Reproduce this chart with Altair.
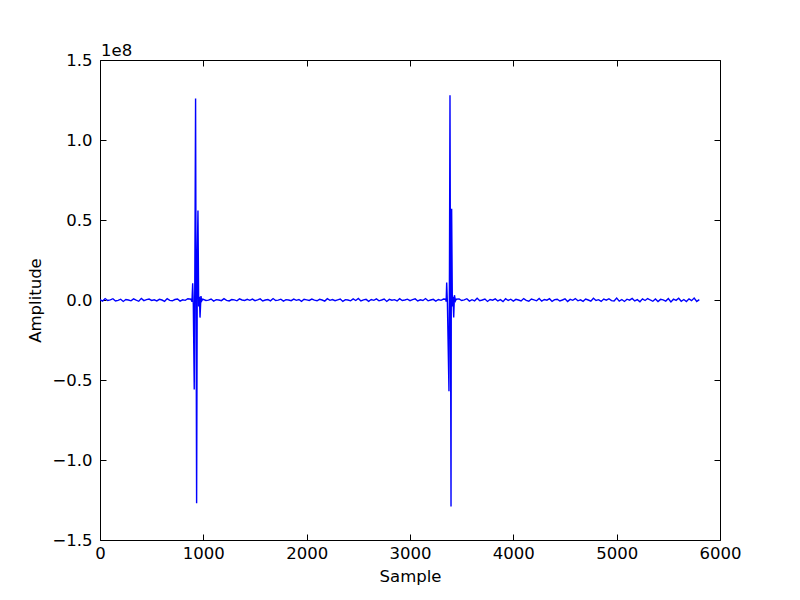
import altair as alt
import pandas as pd

# ---- data -------------------------------------------------------------
noise_step = 25  # baseline samples every 25 indices, 0..5800
noise_e5 = [
    2, -7, 9, -3, 1, 8, -6, -2, 5, -9, 3, 0, -5, 7, -1, -8, 10, -4, 2, 6,
    -3, 1, -6, 4, 0, -8, 9, -2, -5, 3, 6, -7, 1, -2, 8, -5, 0, 4, -6, 2,
    5, -3, -1, 6, -7, 2, 0, -4, 8, -2, -6, 3, 1, -5, 7, 0, -3, 4, -2, 6,
    -4, 1, 7, -6, 0, 3, -5, 9, -3, -1, 5, -7, 2, 0, -4, 6, -2, 3, -8, 5,
    1, -3, 6, -1, -5, 4, 0, -7, 8, -2, 3, -4, 1, 6, -9, 2, 0, -5, 7, -3,
    10, -6, 1, 4, -8, 3, -2, 7, -5, 0, 6, -9, 4, -1, 2, -6, 8, -3, 0, 5,
    -4, 2, 7, -6, 1, -3, 9, -5, 0, 4, -7, 3, -2, 6, -1, -8, 5, 0, -4, 7,
    -3, 1, 8, -7, 2, -5, 11, -4, 0, 6, -9, 3, -1, 7, -6, 2, -10, 8, -3, 5,
    -7, 4, 0, -6, 9, -2, -8, 6, 1, -5, 10, -7, 3, -1, 8, -9, 2, 5, -6, 0,
    7, -10, 4, -2, 9, -5, 1, -8, 6, 0, -7, 11, -3, 2, -9, 6, -1, 8, -4, -6,
    12, -7, 3, -9, 5, -1, 10, -6, 2, -11, 7, -3, 9, 0, -8, 6, -10, 4, 1, -7,
    9, -12, 5, -2, 11, -8, 3, -10, 7, -4, 12, -9, 2,
]

# spike events (sample index, amplitude in units of 1e6)
spike1_samples = [880, 890, 897, 903, 912, 918, 925, 935, 942, 948, 955, 962, 968, 977, 985, 995]
spike1_e6 = [0.5, -1.0, 10.5, -3.0, -56.0, 20.0, 126.0, -127.0, 30.0, 56.0, -4.0, 2.0, -11.0, 2.5, -0.5, 0.5]
spike2_samples = [3345, 3350, 3355, 3362, 3377, 3382, 3387, 3397, 3400, 3403, 3410, 3416, 3423, 3430, 3440, 3448]
spike2_e6 = [0.5, -1.0, 11.0, -2.0, -57.0, 20.0, 128.0, -129.0, 30.0, 57.0, -4.0, 2.0, -11.0, 3.0, -0.5, 0.5]

x_ticks = [0, 1000, 2000, 3000, 4000, 5000, 6000]
y_ticks = [-1.5e8, -1.0e8, -0.5e8, 0.0, 0.5e8, 1.0e8, 1.5e8]

# ---- build table ------------------------------------------------------
windows = [(870, 1000), (3340, 3450)]
rows = []
for i, v in enumerate(noise_e5):
    s = i * noise_step
    if any(a <= s <= b for a, b in windows):
        continue
    rows.append((s, v * 1e5))
for s, v in zip(spike1_samples, spike1_e6):
    rows.append((s, v * 1e6))
for s, v in zip(spike2_samples, spike2_e6):
    rows.append((s, v * 1e6))
rows.sort()
df = pd.DataFrame(rows, columns=["sample", "amp"])

# ---- chart ------------------------------------------------------------
font = "DejaVu Sans"
fs = 16.5
tick = 6

x_scale = alt.Scale(domain=[0, 6000], nice=False, zero=False)
y_scale = alt.Scale(domain=[-1.5e8, 1.5e8], nice=False, zero=False)

minus_expr = "replace(format(datum.value / 1e8, '.1f'), '-', '\u2212')"

line = alt.Chart(df).mark_line(color="#0000ff", strokeWidth=1.4, clip=True).encode(
    x=alt.X("sample:Q", scale=x_scale,
            axis=alt.Axis(orient="bottom", values=x_ticks, format="d", title="Sample",
                          domain=False, tickSize=tick, offset=-tick, labelPadding=5,
                          labelFlush=False, labelOverlap=False, titlePadding=7)),
    y=alt.Y("amp:Q", scale=y_scale,
            axis=alt.Axis(orient="left", values=y_ticks, labelExpr=minus_expr,
                          title="Amplitude", domain=False, tickSize=tick, offset=-tick,
                          labelPadding=8, labelFlush=False, labelOverlap=False,
                          titlePadding=8)),
)

ghost = alt.Chart(df).mark_line(opacity=0).encode(
    x=alt.X("sample:Q", scale=x_scale,
            axis=alt.Axis(orient="top", values=x_ticks, labels=False, title=None,
                          domain=False, tickSize=tick, offset=-tick)),
    y=alt.Y("amp:Q", scale=y_scale,
            axis=alt.Axis(orient="right", values=y_ticks, labels=False, title=None,
                          domain=False, tickSize=tick, offset=-tick)),
)

offset_text = alt.Chart(pd.DataFrame({"t": ["1e8"]})).mark_text(
    align="left", baseline="alphabetic", font=font, fontSize=fs, color="black"
).encode(text="t:N", x=alt.value(1), y=alt.value(-4))

chart = (
    alt.layer(line, ghost, offset_text)
    .resolve_axis(x="independent", y="independent")
    .properties(
        width=620,
        height=480,
        autosize=alt.AutoSizeParams(type="none"),
        padding={"left": 92, "top": 52, "right": 72, "bottom": 52},
        background="white",
    )
    .configure_view(stroke="black", strokeWidth=1)
    .configure_axis(
        labelFont=font, titleFont=font, labelFontSize=fs, titleFontSize=fs,
        titleFontWeight="normal", labelColor="black", titleColor="black",
        tickColor="black", tickWidth=1, grid=False,
    )
)

chart.save("out.html", embed_options={"renderer": "svg", "actions": False})
